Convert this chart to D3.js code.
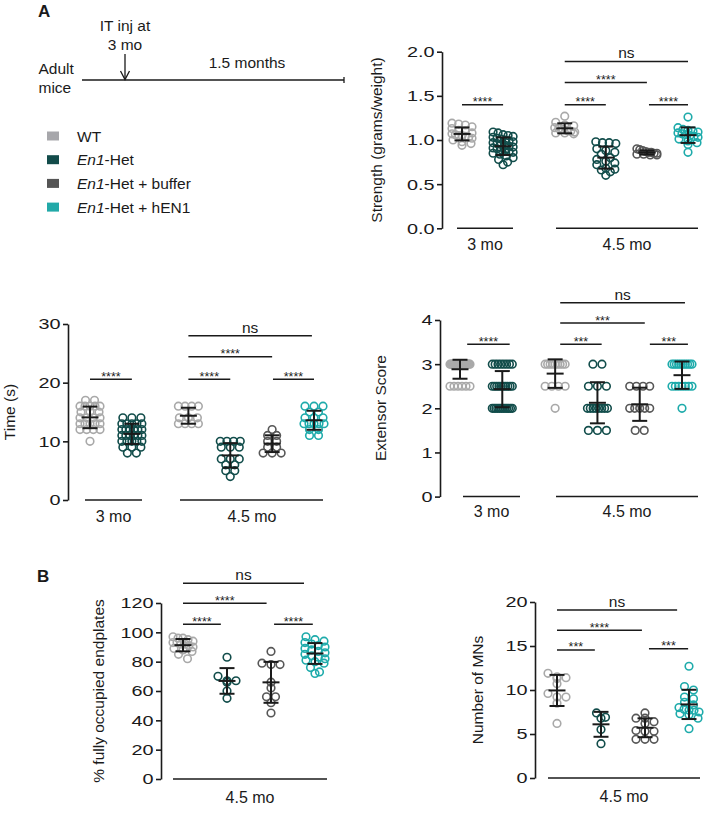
<!DOCTYPE html>
<html><head><meta charset="utf-8">
<script src="https://cdn.jsdelivr.net/npm/d3@7"></script>
<style>
body{margin:0;background:#fff}
svg{display:block}
text{font-family:"Liberation Sans",Arial,Helvetica,sans-serif;fill:#1a1a1a}
</style>
</head><body>
<svg id="c" width="709" height="818"></svg>
<script>
// ---------------- DATA ----------------
const groupNames = ["WT", "En1-Het", "En1-Het + buffer", "En1-Het + hEN1"];
const groupColors = ["#a9a9a9", "#124d4b", "#575757", "#1eabab"];
const ageLabelsA = ["3 mo", "4.5 mo"];
const ageLabelsB = ["4.5 mo"];
// group kind for each column (index into groupNames)
const colsA = [0, 1, 0, 1, 2, 3];
const colsB = [0, 1, 2, 3];

// Strength (grams/weight)
const strengthWT3   = [1.19,1.18,1.17,1.15,1.13,1.11,1.10,1.08,1.07,1.06,1.05,1.05,1.04,1.03,1.02,1.00,0.98,0.96,0.94];
const strengthEn13  = [1.09,1.08,1.06,1.05,1.04,1.03,1.02,1.01,1.00,0.99,0.98,0.97,0.96,0.95,0.94,0.93,0.92,0.91,0.90,0.89,0.88,0.87,0.86,0.85,0.84,0.82,0.80,0.78,0.75,0.72];
const strengthWT45  = [1.27,1.20,1.17,1.16,1.14,1.13,1.12,1.11,1.10,1.09,1.08,1.08,1.07];
const strengthEn145 = [0.98,0.97,0.97,0.96,0.90,0.88,0.86,0.84,0.80,0.78,0.76,0.74,0.72,0.68,0.67,0.66,0.64,0.60];
const strengthBuf45 = [0.90,0.89,0.88,0.87,0.86,0.86,0.85,0.85,0.84,0.84,0.83,0.83];
const strengthHEN45 = [1.26,1.14,1.12,1.11,1.10,1.09,1.08,1.07,1.06,1.05,1.04,1.03,1.01,0.99,0.97,0.95,0.86];
const strengthTicks = [0, 0.5, 1, 1.5, 2];
const strengthSig = [[0,1,1.40,"****"],[2,3,1.40,"****"],[2,4,1.65,"****"],[4.05,5,1.40,"****"],[2,5,1.89,"ns"]];

// Time (s)
const timeWT3   = [17,17,16,16,16,16,16,15,15,15,14,14,14,14,13,13,13,13,13,12,12,12,12,10];
const timeEn13  = [14,14,14,13,13,13,13,13,12,12,12,12,12,12,11,11,11,11,11,11,10,10,10,10,10,9,9,9,8,8];
const timeWT45  = [16,16,16,16,14,14,14,13,13,13,13];
const timeEn145 = [10,10,10,10,9,9,9,7,7,7,6,6,5,5,4];
const timeBuf45 = [12,11,11,10,10,9,9,8,8,8];
const timeHEN45 = [16,16,16,15,15,14,14,14,13,13,13,13,13,12,12,11,11];
const timeTicks = [0, 10, 20, 30];
const timeSig = [[0,1,20.6,"****"],[2,3,20.6,"****"],[2,4,24.4,"****"],[4.02,5,20.6,"****"],[2,4.95,28.0,"ns"]];

// Extensor score
const extWT3   = [3,3,3,3,3,3,3,3,3,3,3,3,3,3,3,3,3,3,3,3,2.5,2.5,2.5,2.5,2.5,2.5];
const extEn13  = [3,3,3,3,3,3,3,3,2.5,2.5,2.5,2.5,2.5,2.5,2.5,2.5,2.5,2.5,2,2,2,2,2,2,2,2,2,2,2,2];
const extWT45  = [3,3,3,3,3,3,3,3,3,2.5,2.5,2.5,2.5,2];
const extEn145 = [3,3,2.5,2.5,2.5,2,2,2,2,2,2,2,2,1.5,1.5,1.5];
const extBuf45 = [2.5,2.5,2.5,2.5,2,2,2,2,2,1.5,1.5];
const extHEN45 = [3,3,3,3,3,3,3,3,3,3,2.5,2.5,2.5,2.5,2.5,2.5,2.5,2];
const extTicks = [0, 1, 2, 3, 4];
const extSig = [[0.17,1.14,3.45,"****"],[2.12,3.1,3.45,"***"],[2.12,4.12,3.93,"***"],[4.24,5.14,3.45,"***"],[2.12,5.07,4.39,"ns"]];

// % fully occupied endplates (4.5 mo)
const endWT   = [97,96,96,95,94,93,93,92,92,91,90,89,88,87,85,82];
const endEn1  = [83,70,67,67,66,60,55];
const endBuf  = [87,79,78,78,66,62,56,56,52,45];
const endHEN1 = [97,95,94,93,92,91,90,89,88,87,86,85,84,83,82,81,80,79,76,73,72];
const endTicks = [0, 20, 40, 60, 80, 100, 120];
const endSig = [[0,0.86,105.5,"****"],[0,1.9,119.8,"****"],[2.07,2.95,105.5,"****"],[0,2.75,133.4,"ns"]];

// Number of MNs (4.5 mo)
const mnWT   = [11.9,11.5,11.4,11.3,10.7,9.6,9.2,9.2,8.5,6.2];
const mnEn1  = [7.4,6.9,6.8,5.5,3.9];
const mnBuf  = [7.4,6.8,6.8,6.4,6.2,5.4,5.3,5.3,4.4,4.4,4.4];
const mnHEN1 = [12.7,10.4,10.0,9.2,9.0,8.6,8.3,8.0,7.8,7.7,7.7,7.5,7.3,7.2,6.8,5.6];
const mnTicks = [0, 5, 10, 15, 20];
const mnSig = [[0,0.86,14.55,"***"],[0,1.93,16.8,"****"],[2.09,2.98,14.7,"***"],[0,2.73,19.1,"ns"]];

// ---------------- DRAWING ----------------
const svg = d3.select("#c");
const INK = "#1a1a1a";
const R = 3.8, DIA = 9, SPREAD = 20, ROWH = 4.5;
const TICK_SX = 1.28;

function swarm(vals, y, cx) {
  const pts = vals.map(v => ({v, py: y(v)})).sort((a, b) => a.py - b.py);
  const rows = []; let cur = null;
  for (const p of pts) {
    if (!cur || p.py - cur[0].py > ROWH) { cur = [p]; rows.push(cur); } else cur.push(p);
  }
  rows.forEach(r => {
    const n = r.length;
    const s = n > 1 ? Math.min(DIA, SPREAD / (n - 1)) : 0;
    r.forEach((p, i) => { p.px = cx + (i - (n - 1) / 2) * s; });
  });
  return pts;
}

function drawPanel(cfg) {
  const g = svg.append("g");
  const y = d3.scaleLinear().domain(cfg.domain).range(cfg.yRange);
  const x = d3.scaleLinear().domain([0, cfg.slots[cfg.slots.length - 1]]).range(cfg.xRange);
  const X = cfg.slots.map(s => x(s));
  const gx = i => {
    const i0 = Math.max(0, Math.min(Math.floor(i), X.length - 2));
    return X[i0] + (i - i0) * (X[i0 + 1] - X[i0]);
  };

  // axis
  const ax = g.append("g").attr("transform", `translate(${cfg.axisX},0)`)
    .call(d3.axisLeft(y).tickValues(cfg.ticks).tickSize(5).tickPadding(3).tickSizeOuter(0).tickFormat(cfg.fmt));
  ax.select(".domain").attr("stroke", INK).attr("stroke-width", 1.6);
  ax.selectAll(".tick line").attr("stroke", INK).attr("stroke-width", 1.6);
  ax.selectAll(".tick text").attr("font-size", 15.5).attr("fill", INK)
    .style("font-family", '"Liberation Sans",Arial,sans-serif')
    .attr("transform", `scale(${TICK_SX},1)`).attr("x", -7.5 / TICK_SX);

  // y title
  g.append("text").attr("transform", `translate(${cfg.titleX},${cfg.titleY}) rotate(-90)`)
    .attr("text-anchor", "middle").attr("font-size", 15.5).text(cfg.title);

  // age group lines and labels
  cfg.ageSpans.forEach((sp, i) => {
    g.append("line").attr("x1", sp[0]).attr("x2", sp[1]).attr("y1", y(0)).attr("y2", y(0))
      .attr("stroke", INK).attr("stroke-width", 1.5);
    g.append("text").attr("x", (sp[0] + sp[1]) / 2 + cfg.labelShift[i]).attr("y", y(0) + cfg.labelDy)
      .attr("text-anchor", "middle").attr("font-size", 16).text(cfg.ageLabels[i]);
  });

  // points
  cfg.series.forEach((vals, i) => {
    const col = groupColors[cfg.kinds[i]];
    const pts = swarm(vals, y, X[i]);
    g.append("g").selectAll("circle").data(pts).join("circle")
      .attr("cx", d => d.px).attr("cy", d => d.py).attr("r", R)
      .attr("fill", "none").attr("stroke", col).attr("stroke-width", 1.6);
  });

  // error bars mean ± SD
  cfg.series.forEach((vals, i) => {
    const m = d3.mean(vals), sd = d3.deviation(vals);
    const cx = X[i];
    const eb = g.append("g").attr("stroke", INK).attr("stroke-width", 2);
    eb.append("line").attr("x1", cx).attr("x2", cx).attr("y1", y(m - sd)).attr("y2", y(m + sd));
    [m - sd, m + sd].forEach(v => eb.append("line").attr("x1", cx - 7.5).attr("x2", cx + 7.5).attr("y1", y(v)).attr("y2", y(v)));
    eb.append("line").attr("x1", cx - 8.5).attr("x2", cx + 8.5).attr("y1", y(m)).attr("y2", y(m));
  });

  // significance bars
  cfg.sig.forEach(s => {
    const x0 = gx(s[0]), x1 = gx(s[1]), yy = y(s[2]);
    g.append("line").attr("x1", x0).attr("x2", x1).attr("y1", yy).attr("y2", yy)
      .attr("stroke", INK).attr("stroke-width", 1.5);
    const ns = s[3] === "ns";
    g.append("text").attr("x", (x0 + x1) / 2).attr("y", ns ? yy - 3 : yy + 1.5)
      .attr("text-anchor", "middle").attr("font-size", ns ? 15.5 : 12.5).text(s[3]);
  });
}

const fmt1 = d3.format(".1f"), fmt0 = d3.format("d");

drawPanel({
  series: [strengthWT3, strengthEn13, strengthWT45, strengthEn145, strengthBuf45, strengthHEN45], kinds: colsA,
  domain: [0, 2], yRange: [228.3, 51.7], ticks: strengthTicks, fmt: fmt1, axisX: 442,
  slots: [0, 1, 2.5, 3.5, 4.5, 5.5], xRange: [462, 688],
  title: "Strength (grams/weight)", titleX: 382, titleY: 140,
  ageSpans: [[457, 513], [556, 698]], ageLabels: ageLabelsA, labelShift: [0, 0], labelDy: 22, sig: strengthSig
});
drawPanel({
  series: [timeWT3, timeEn13, timeWT45, timeEn145, timeBuf45, timeHEN45], kinds: colsA,
  domain: [0, 30], yRange: [500, 324], ticks: timeTicks, fmt: fmt0, axisX: 68,
  slots: [0, 1, 2.35, 3.35, 4.35, 5.35], xRange: [90, 314],
  title: "Time (s)", titleX: 15, titleY: 412,
  ageSpans: [[85, 142], [180, 323]], ageLabels: ageLabelsA, labelShift: [0, 0.5], labelDy: 21.5, sig: timeSig
});
drawPanel({
  series: [extWT3, extEn13, extWT45, extEn145, extBuf45, extHEN45], kinds: colsA,
  domain: [0, 4], yRange: [496.6, 320], ticks: extTicks, fmt: fmt0, axisX: 440,
  slots: [0, 1, 2.25, 3.25, 4.25, 5.25], xRange: [460, 682],
  title: "Extensor Score", titleX: 386, titleY: 408,
  ageSpans: [[463, 520], [556, 698]], ageLabels: ageLabelsA, labelShift: [0, 0], labelDy: 20.5, sig: extSig
});
drawPanel({
  series: [endWT, endEn1, endBuf, endHEN1], kinds: colsB,
  domain: [0, 120], yRange: [779, 603], ticks: endTicks, fmt: fmt0, axisX: 161,
  slots: [0, 1, 2, 3], xRange: [183, 315],
  title: "% fully occupied endplates", titleX: 104, titleY: 691,
  ageSpans: [[173, 327]], ageLabels: ageLabelsB, labelShift: [0], labelDy: 24, sig: endSig
});
drawPanel({
  series: [mnWT, mnEn1, mnBuf, mnHEN1], kinds: colsB,
  domain: [0, 20], yRange: [778, 602], ticks: mnTicks, fmt: fmt0, axisX: 535,
  slots: [0, 1, 2, 3], xRange: [557, 689],
  title: "Number of MNs", titleX: 483, titleY: 690,
  ageSpans: [[548, 700]], ageLabels: ageLabelsB, labelShift: [0], labelDy: 24, sig: mnSig
});

// ---------------- Panel A header ----------------
svg.append("text").attr("x", 38).attr("y", 17).attr("font-size", 17).attr("font-weight", "bold").text("A");
svg.append("text").attr("x", 37).attr("y", 582).attr("font-size", 17).attr("font-weight", "bold").text("B");

const hdr = svg.append("g").attr("font-size", 15.5);
hdr.append("text").attr("x", 125).attr("y", 30.5).attr("text-anchor", "middle").text("IT inj at");
hdr.append("text").attr("x", 125).attr("y", 50).attr("text-anchor", "middle").text("3 mo");
hdr.append("text").attr("x", 247).attr("y", 68).attr("text-anchor", "middle").text("1.5 months");
hdr.append("text").attr("x", 38.5).attr("y", 74).text("Adult");
hdr.append("text").attr("x", 38.5).attr("y", 93).text("mice");
const tl = svg.append("g").attr("stroke", INK).attr("stroke-width", 1.3).attr("fill", "none");
tl.append("line").attr("x1", 82).attr("x2", 344).attr("y1", 80).attr("y2", 80);
tl.append("line").attr("x1", 344).attr("x2", 344).attr("y1", 77).attr("y2", 83);
tl.append("line").attr("x1", 125).attr("x2", 125).attr("y1", 54).attr("y2", 79.5);
tl.append("polyline").attr("points", "120.5,71 125,79.5 129.5,71");

// legend
const legendParts = [
  [["WT", false]],
  [["En1", true], ["-Het", false]],
  [["En1", true], ["-Het + buffer", false]],
  [["En1", true], ["-Het + hEN1", false]]
];
const legendColors = ["#a7a7ab", "#124b4a", "#555555", "#22a9a8"];
legendParts.forEach((parts, i) => {
  const cy = 136 + i * 23.7;
  svg.append("rect").attr("x", 47).attr("y", cy - 4.5).attr("width", 12).attr("height", 9).attr("fill", legendColors[i]);
  const t = svg.append("text").attr("x", 77).attr("y", cy + 5.5).attr("font-size", 15.5);
  parts.forEach(p => t.append("tspan").attr("font-style", p[1] ? "italic" : "normal").text(p[0]));
});
</script>
</body></html>
